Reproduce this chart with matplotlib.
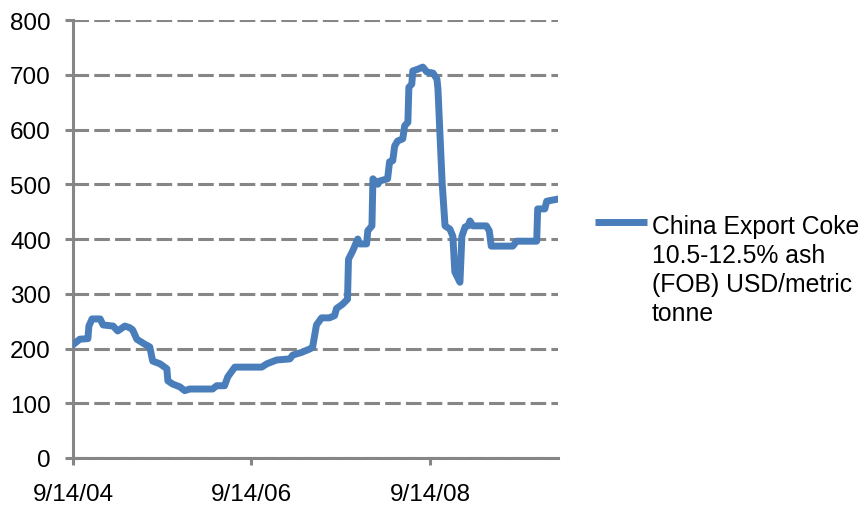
import matplotlib
matplotlib.use('Agg')
import matplotlib.pyplot as plt
import pandas as pd

plt.rcParams['font.family'] = ['Liberation Sans', 'DejaVu Sans']

# price points, USD/metric tonne
dates = [
    '2004-09-14', '2004-10-12', '2004-11-14', '2004-11-18', '2004-12-01',
    '2005-01-03', '2005-01-15', '2005-02-25', '2005-03-16', '2005-04-14',
    '2005-05-04', '2005-05-16', '2005-06-02', '2005-07-04', '2005-07-25',
    '2005-08-06', '2005-09-05', '2005-10-03', '2005-10-07', '2005-10-27',
    '2005-11-25', '2005-12-15', '2006-01-05', '2006-04-08', '2006-04-25',
    '2006-05-27', '2006-06-09', '2006-07-08', '2006-10-26', '2006-11-16',
    '2006-12-26', '2007-02-18', '2007-03-02', '2007-04-08', '2007-05-10',
    '2007-05-22', '2007-06-07', '2007-06-28', '2007-07-30', '2007-08-20',
    '2007-08-28', '2007-09-22', '2007-10-12', '2007-10-16', '2007-11-02',
    '2007-11-23', '2007-12-01', '2007-12-29', '2008-01-03', '2008-01-20',
    '2008-01-24', '2008-02-13', '2008-02-21', '2008-03-24', '2008-04-01',
    '2008-04-14', '2008-04-22', '2008-05-04', '2008-05-25', '2008-06-02',
    '2008-06-15', '2008-06-19', '2008-07-01', '2008-07-05', '2008-07-25',
    '2008-08-15', '2008-09-01', '2008-09-26', '2008-10-12', '2008-10-16',
    '2008-11-02', '2008-11-14', '2008-12-04', '2008-12-16', '2008-12-24',
    '2009-01-14', '2009-01-22', '2009-02-04', '2009-02-16', '2009-02-24',
    '2009-03-08', '2009-05-02', '2009-05-14', '2009-05-22', '2009-08-18',
    '2009-09-03', '2009-11-24', '2009-11-28', '2009-12-27', '2010-01-04',
    '2010-02-19',
]
prices = [
    207, 217, 218, 241, 254,
    254, 243, 241, 232, 241,
    238, 234, 217, 208, 203,
    177, 172, 163, 141, 135,
    130, 123, 126, 126, 132,
    132, 148, 166, 166, 172,
    179, 181, 188, 193, 199,
    202, 243, 256, 256, 260,
    273, 281, 290, 363, 378,
    400, 391, 391, 415, 424,
    510, 500, 506, 510, 541,
    543, 570, 579, 583, 607,
    613, 677, 683, 707, 710,
    714, 705, 703, 692, 674,
    504, 424, 418, 405, 340,
    321, 405, 422, 424, 433,
    424, 424, 415, 387, 387,
    396, 396, 455, 455, 469,
    473,
]
series_label = 'China Export Coke\n10.5-12.5% ash\n(FOB) USD/metric\ntonne'
tick_dates = ['2004-09-14', '2006-09-14', '2008-09-14']
tick_labels = ['9/14/04', '9/14/06', '9/14/08']
y_ticks = [0, 100, 200, 300, 400, 500, 600, 700, 800]

x = pd.to_datetime(dates)
grey = '#868686'

fig = plt.figure(figsize=(8.66, 5.10), dpi=100)
ax = fig.add_axes([0.0843, 0.1, 0.56, 0.8588])

ax.plot(x, prices, color='#4A7EBB', lw=5, solid_joinstyle='round',
        label=series_label, zorder=3)

ax.set_ylim(0, 800)
ax.set_yticks(y_ticks)
ax.set_xlim(x[0], x[-1])
ax.set_xticks(pd.to_datetime(tick_dates))
ax.set_xticklabels(tick_labels)

ax.yaxis.grid(True, color=grey, lw=2.2, dashes=(5.1, 1.7))
ax.set_axisbelow(True)
for side in ('top', 'right'):
    ax.spines[side].set_visible(False)
for side in ('left', 'bottom'):
    ax.spines[side].set_color(grey)
    ax.spines[side].set_linewidth(2.2)

ax.tick_params(axis='y', direction='out', length=6, width=2.2, color=grey,
               labelsize=17.5, pad=10)
ax.tick_params(axis='x', direction='out', length=5, width=2.2, color=grey,
               labelsize=17.5, pad=13)

leg = fig.legend(loc='upper left', bbox_to_anchor=(0.661, 0.622),
                 bbox_transform=fig.transFigure, frameon=False, fontsize=17.8,
                 handlelength=2.12, handletextpad=0.2, borderpad=0.4)
for t in leg.get_texts():
    t.set_linespacing(1.27)
# put the legend key beside the first line of the label
handle = leg.legend_handles[0]
handle.set_ydata([y + 35 for y in handle.get_ydata()])
handle.set_solid_capstyle('butt')

fig.savefig('out.png', dpi=100)
